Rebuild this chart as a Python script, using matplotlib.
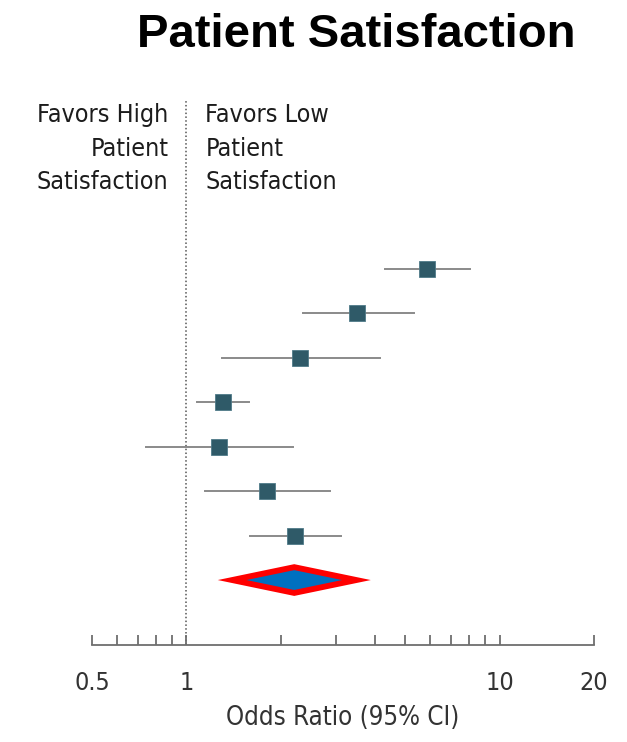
import matplotlib
matplotlib.use("Agg")
import matplotlib.pyplot as plt
import numpy as np
from matplotlib.patches import Polygon
from matplotlib.ticker import FixedLocator, NullFormatter

# ---------- 数据 ----------
odds = [5.88, 3.51, 2.31, 1.31, 1.27, 1.81, 2.23]
ci_low = [4.31, 2.35, 1.30, 1.08, 0.745, 1.15, 1.60]
ci_high = [8.06, 5.34, 4.16, 1.59, 2.19, 2.88, 3.12]
pooled = 2.21
pooled_low = 1.40
pooled_high = 3.49

major_ticks = [0.5, 1, 10, 20]
major_labels = ['0.5', '1', '10', '20']
minor_ticks = [0.6, 0.7, 0.8, 0.9, 2, 3, 4, 5, 6, 7, 8, 9]

cond = ['DejaVu Sans']
grey = '#6e6e6e'

fig = plt.figure(figsize=(6.27, 7.42), dpi=100)
ax = fig.add_axes([92 / 627, 97 / 742, 502 / 627, 545 / 742])
ax.set_xscale('log')
ax.set_xlim(0.5, 20)
ax.set_ylim(-1.46, 10.79)

n = len(odds)
ys = np.arange(n, 0, -1)

# CI 线和方块
for y, o, lo, hi in zip(ys, odds, ci_low, ci_high):
    ax.plot([lo, hi], [y, y], color='#8a8a8a', lw=1.4, zorder=2)
ax.plot(odds, ys, 's', color='#2f5a68', markeredgecolor='#4f7a88',
        markeredgewidth=0.6, markersize=12, zorder=3)

# 合并效应菱形
dh = 0.29
diamond = Polygon([[pooled_low, 0], [pooled, dh], [pooled_high, 0], [pooled, -dh]],
                  closed=True, facecolor='#0070c0', edgecolor='#ff0000',
                  linewidth=4.2, joinstyle='miter', zorder=3)
ax.add_patch(diamond)

# 参考线
ax.axvline(1, color='#555555', lw=1.1, ls=(0, (1, 1.5)), zorder=1)

for s in ['top', 'right', 'left']:
    ax.spines[s].set_visible(False)
ax.spines['bottom'].set_color(grey)
ax.spines['bottom'].set_linewidth(1.3)
ax.set_yticks([])
ax.xaxis.set_major_locator(FixedLocator(major_ticks))
ax.xaxis.set_minor_locator(FixedLocator(minor_ticks))
ax.xaxis.set_minor_formatter(NullFormatter())
ax.set_xticklabels(major_labels, family=cond, fontsize=18, color='#333333',
                   stretch='condensed')
ax.tick_params(axis='x', which='both', direction='in', length=7, width=1.3,
               color=grey, pad=19)
ax.set_xlabel('Odds Ratio (95% CI)', family=cond, fontsize=18.5, color='#333333',
              labelpad=7, stretch='condensed')

# 标注
ax.text(0.876, 9.69, 'Favors High\nPatient\nSatisfaction', ha='right', va='center',
        family=cond, fontsize=18, color='#1c1c1c', linespacing=1.5,
        stretch='condensed')
ax.text(1.15, 9.69, 'Favors Low\nPatient\nSatisfaction', ha='left', va='center',
        family=cond, fontsize=18, color='#1c1c1c', linespacing=1.5,
        stretch='condensed')

fig.text(0.568, 0.953, 'Patient Satisfaction', ha='center', va='center',
         family=['Liberation Sans', 'DejaVu Sans'], fontweight='bold',
         fontsize=34, color='black')

fig.savefig('out.png', dpi=100)
